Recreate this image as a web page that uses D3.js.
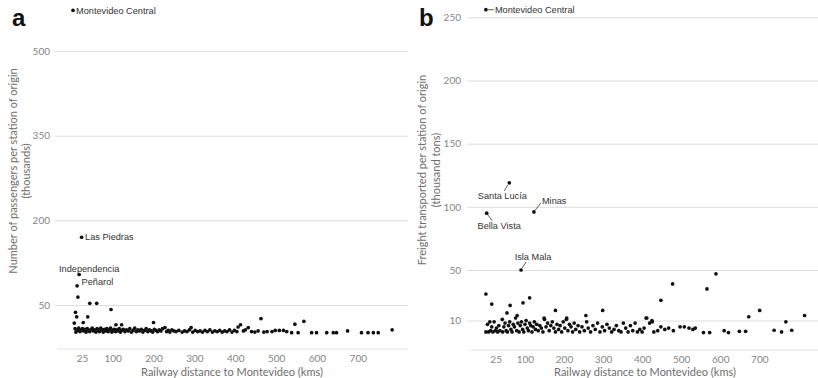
<!DOCTYPE html>
<html>
<head>
<meta charset="utf-8">
<script src="https://cdn.jsdelivr.net/npm/d3@7"></script>
<style>
  body { margin: 0; background: #fff; }
  svg { display: block; }
</style>
</head>
<body>
<svg id="chart" width="818" height="378"></svg>
<script>
// ---- data ----------------------------------------------------------------
// distance along the railway from Montevideo (km)
const xTicks = [25, 100, 200, 300, 400, 500, 600, 700];
const passengerTicks = [50, 200, 350, 500];
const freightTicks = [10, 50, 100, 150, 200, 250];

// passengers (thousands) by station: named stations
const passengerNamed = [
  ["Montevideo Central", 3, 572],
  ["Las Piedras", 24, 170],
  ["Independencia", 18, 104],
  ["Peñarol", 13, 84]
];
// passengers (thousands): remaining stations [km, value]
const passengerOther = [
  [15,64],[44,53],[61,53],[96,42],[9,37],[12,29],[39,29],[6,18],[28,19],[8,8],[10,2],
  [108,15],[122,15],[200,19],[463,26],[546,16],[568,21],[413,15],[407,11],[432,10],
  [14,5],[17,9],[20,3],[23,6],[26,8],[29,4],[32,7],[35,2],[38,8],[41,5],[44,3],[47,7],
  [50,9],[53,4],[56,6],[59,2],[62,8],[65,5],[68,3],[71,9],[74,6],[77,2],[80,7],[83,4],
  [86,8],[89,3],[92,6],[95,9],[98,2],[101,5],[104,7],[107,3],[110,6],[113,4],[116,8],
  [119,2],[122,5],[126,7],[130,3],[134,6],[138,4],[142,8],[146,2],[150,5],[154,9],
  [158,3],[162,6],[166,4],[170,7],[174,2],[178,5],[182,8],[186,3],[190,6],[194,4],
  [198,2],[202,7],[206,5],[210,3],[214,6],[218,4],[222,8],[228,10],[232,3],[236,5],
  [240,2],[245,6],[250,4],[255,3],[262,5],[270,2],[276,4],[282,3],[288,6],[292,10],
  [296,2],[302,5],[308,3],[314,4],[320,2],[326,5],[332,3],[338,6],[344,2],[350,4],
  [356,3],[362,5],[368,2],[374,4],[380,3],[386,6],[392,2],[398,5],[404,3],[420,4],
  [425,6],[440,3],[448,2],[456,4],[470,2],[478,3],[490,3],[498,5],[508,5],[518,5],
  [526,3],[538,1],[554,1],[587,1],[599,1],[624,1],[640,1],[648,1],[675,4],[709,1],
  [725,1],[738,1],[750,1],[784,6]
];

// freight (thousand tons) by station: named stations
const freightNamed = [
  ["Montevideo Central", 0, 256],
  ["Santa Lucía", 60, 119],
  ["Bella Vista", 2, 95],
  ["Minas", 123, 96],
  ["Isla Mala", 90, 50]
];
// freight (thousand tons): remaining stations [km, value]
const freightOther = [
  [0,31],[15,23],[62,22],[95,24],[112,28],[54,16],[80,14],[42,11],[178,18],[149,12],
  [256,14],[299,18],[207,12],[410,12],[426,9],[448,26],[478,39],[566,35],[589,47],
  [673,13],[701,18],[768,9],[816,14],
  [0,1],[4,7],[7,1],[10,9],[12,2],[15,5],[18,1],[21,9],[24,2],[27,4],[30,1],[33,6],
  [36,2],[43,1],[46,5],[49,8],[52,2],[55,1],[58,6],[61,9],[64,3],[67,1],[70,7],[73,5],
  [76,12],[79,2],[82,8],[85,1],[88,6],[91,9],[94,3],[97,1],[100,7],[103,10],[106,4],
  [109,2],[112,8],[115,6],[118,1],[121,5],[124,9],[127,3],[130,7],[134,2],[138,6],
  [142,4],[146,1],[150,11],[154,5],[158,8],[162,2],[166,6],[170,9],[174,4],[178,1],
  [182,7],[186,3],[190,6],[194,1],[198,9],[202,4],[206,11],[210,2],[214,7],[218,5],
  [222,1],[226,8],[230,3],[236,6],[240,1],[246,5],[252,2],[258,9],[262,4],[268,1],
  [274,6],[280,3],[286,8],[292,1],[298,5],[304,2],[310,7],[316,4],[322,1],[328,3],
  [334,6],[340,2],[346,1],[352,8],[358,4],[364,1],[370,6],[376,2],[382,8],[388,1],
  [394,3],[400,1],[405,4],[412,12],[419,8],[425,10],[430,1],[440,2],[448,5],[458,3],
  [468,4],[480,2],[497,5],[508,5],[520,4],[530,3],[536,4],[557,0.5],[573,0.5],
  [610,2],[621,0.5],[649,1.5],[665,1.5],[738,2.3],[757,1],[783,2.3]
];

// ---- drawing -------------------------------------------------------------
const svg = d3.select("#chart");
const tickFont = "Lato, 'Open Sans', sans-serif";
const noteFont = "'Liberation Sans', Arial, sans-serif";

function panel(opt) {
  const g = svg.append("g");
  const x = d3.scaleLinear().domain([0, 700]).range(opt.xRange);
  const y = d3.scaleLinear().domain(opt.yDomain).range(opt.yRange);

  // horizontal gridlines with their labels
  const yAxis = d3.axisLeft(y).tickValues(opt.yTicks).tickSize(0).tickPadding(0);
  const ga = g.append("g").attr("transform", `translate(${opt.gridX[0]},0)`).call(yAxis);
  ga.select(".domain").remove();
  ga.selectAll(".tick line")
    .attr("x2", opt.gridX[1] - opt.gridX[0])
    .attr("stroke", "#dedede").attr("stroke-width", 1);
  ga.selectAll(".tick text")
    .attr("x", opt.yLabelX - opt.gridX[0])
    .attr("fill", "#858585").attr("font-family", tickFont).attr("font-size", 10);

  // baseline of the plot
  g.append("line")
    .attr("x1", opt.baseX[0]).attr("x2", opt.baseX[1])
    .attr("y1", opt.baseY).attr("y2", opt.baseY)
    .attr("stroke", "#e2e2e2");

  // distance ticks
  const xAxis = d3.axisBottom(x).tickValues(xTicks).tickSize(0).tickPadding(0);
  const gx = g.append("g").attr("transform", `translate(0,${opt.baseY})`).call(xAxis);
  gx.select(".domain").remove();
  gx.selectAll(".tick text")
    .attr("y", 6).attr("dy", "0.71em")
    .attr("fill", "#858585").attr("font-family", tickFont).attr("font-size", 10);

  // axis titles
  g.append("text")
    .attr("x", opt.xTitleX).attr("y", 376)
    .attr("text-anchor", "middle")
    .attr("font-family", tickFont).attr("font-size", 11).attr("fill", "#6e6e6e")
    .text("Railway distance to Montevideo (kms)");
  opt.yTitle.forEach((line, i) => {
    g.append("text")
      .attr("transform", `translate(${opt.yTitleX[i]},${opt.yTitleY}) rotate(-90)`)
      .attr("text-anchor", "middle").attr("dy", "0.35em")
      .attr("font-family", tickFont).attr("font-size", 11).attr("fill", "#6e6e6e")
      .text(line);
  });

  // panel letter
  g.append("text")
    .attr("x", opt.letterPos[0]).attr("y", opt.letterPos[1])
    .attr("font-family", noteFont).attr("font-weight", "bold")
    .attr("font-size", 24).attr("fill", "#111")
    .text(opt.letter);

  // stations
  const all = opt.other.concat(opt.named.map(d => [d[1], d[2]]));
  g.append("g").selectAll("circle").data(all).join("circle")
    .attr("cx", d => x(d[0])).attr("cy", d => y(d[1]))
    .attr("r", 1.85).attr("fill", "#111");

  // station names, with optional leader lines
  opt.named.forEach((d, i) => {
    const n = opt.notes[i];
    const cx = x(d[1]), cy = y(d[2]);
    if (n.lead) {
      g.append("line")
        .attr("x1", cx + n.lead[0]).attr("y1", cy + n.lead[1])
        .attr("x2", cx + n.lead[2]).attr("y2", cy + n.lead[3])
        .attr("stroke", "#333").attr("stroke-width", 0.8);
    }
    g.append("text")
      .attr("x", cx + n.dx).attr("y", cy + n.dy).attr("dy", "0.35em")
      .attr("text-anchor", n.anchor)
      .attr("font-family", noteFont).attr("font-size", 9.2).attr("fill", "#333")
      .text(d[0]);
  });
}

panel({
  letter: "a", letterPos: [12, 26],
  xRange: [71.8, 357.8], yDomain: [50, 500], yRange: [305, 51],
  yTicks: passengerTicks, gridX: [55, 408], yLabelX: 50,
  baseX: [57, 408], baseY: 349, xTitleX: 232,
  yTitle: ["Number of passengers per station of origin", "(thousands)"],
  yTitleX: [13, 26], yTitleY: 171,
  named: passengerNamed, other: passengerOther,
  notes: [
    { dx: 3, dy: 0, anchor: "start" },
    { dx: 3.5, dy: 0, anchor: "start" },
    { dx: 10, dy: -6, anchor: "middle" },
    { dx: 4.5, dy: -4.5, anchor: "start" }
  ]
});

panel({
  letter: "b", letterPos: [419, 26],
  xRange: [485.9, 759.3], yDomain: [50, 250], yRange: [270, 17.3],
  yTicks: freightTicks, gridX: [467, 818], yLabelX: 461,
  baseX: [469, 818], baseY: 350, xTitleX: 645,
  yTitle: ["Freight transported per station of origin", "(thousand tons)"],
  yTitleX: [422, 436], yTitleY: 170,
  named: freightNamed, other: freightOther,
  notes: [
    { dx: 9, dy: 0, anchor: "start", lead: [2, 0, 8, 0] },
    { dx: -7, dy: 13, anchor: "middle", lead: [-1.5, 2, -5, 8] },
    { dx: 12.5, dy: 12.5, anchor: "middle", lead: [1, 1.5, 5.5, 7.5] },
    { dx: 8, dy: -11.5, anchor: "start", lead: [1, -1.5, 7, -9] },
    { dx: 12, dy: -13, anchor: "middle", lead: [1, -2, 5, -8] }
  ]
});
</script>
</body>
</html>
